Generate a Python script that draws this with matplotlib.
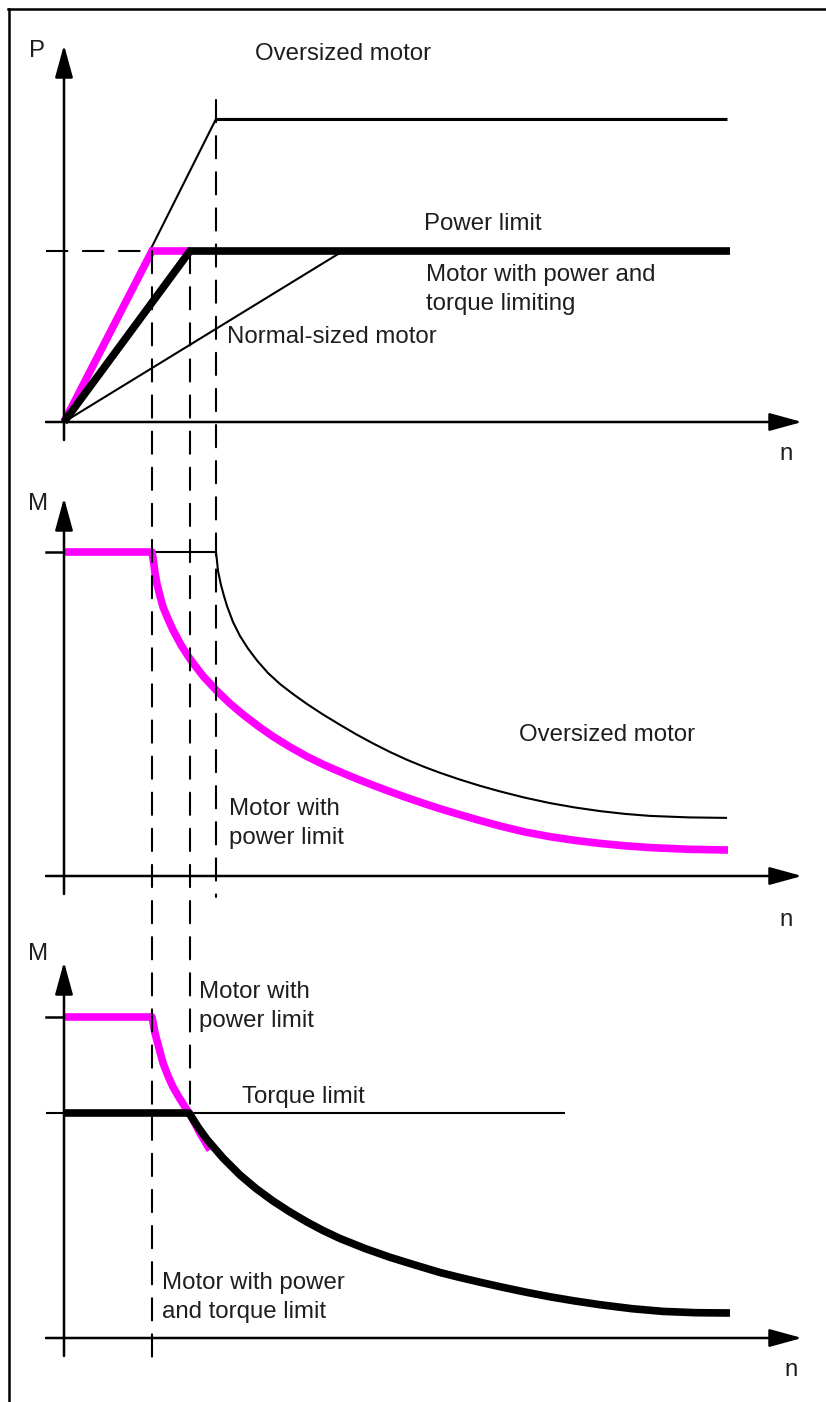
import matplotlib.pyplot as plt
from matplotlib.patches import ConnectionPatch
from matplotlib.lines import Line2D

plt.rcParams['font.family'] = ['Liberation Sans', 'DejaVu Sans']
plt.rcParams['lines.scale_dashes'] = False

W, H = 826, 1402
MAGENTA = '#ff00ff'
INK = '#1e1e1e'
FS = 17.3

# --- data (schematic units, origin of each diagram at 0,0) ---
n_power = 88      # power limit reached (magenta knee)
n_torque = 126    # knee of motor with power and torque limiting
n_over = 152      # knee of oversized motor
n_end = 666

# top: P over n
p_limit = 171
p_over = 303
p_mag_n = [0, n_power, n_torque]
p_mag_p = [0, p_limit, p_limit]
p_black_n = [0, n_torque, n_end]
p_black_p = [0, p_limit, p_limit]
p_over_n = [0, n_over, 663]
p_over_p = [0, p_over, p_over]
p_normal_n = [0, 279]
p_normal_p = [0, p_limit]

# middle: M over n, motor with power limit / oversized motor
m_max = 324
m2_mag_n = [0, 88, 89, 90, 91, 93, 96, 99, 104, 109, 117, 126, 139, 153, 166, 179, 194, 209, 226,
            243, 260, 276, 292, 309, 326, 343, 360, 376, 396, 416, 436, 461, 486, 511, 536, 561,
            586, 625, 664]
m2_mag_m = [324, 324, 318, 311, 303, 292, 280, 269, 257, 246, 231, 217, 200, 185, 172.5, 161.5, 150, 139.5, 129,
            119.5, 111.2, 104.2, 97.5, 90.8, 84.4, 78.3, 72.5, 67.3, 61.3, 55.5, 50, 44, 39.3, 35.6, 32.6, 30.2,
            28.4, 26.7, 26]
m2_over_n = [0, 152, 153, 154, 157, 160, 163, 169, 176, 184, 193, 204, 216, 229, 243, 259, 276, 292,
             309, 326, 343, 360, 376, 396, 416, 436, 461, 486, 511, 536, 561, 586, 625, 663]
m2_over_m = [324, 324, 315, 305, 291, 280, 270, 254, 240, 227.5, 215.5, 203, 192, 182, 172, 161.5, 151.2, 141.8,
             132.6, 124, 116.2, 109.2, 103.2, 96.4, 90.2, 84.6, 78.3, 72.9, 68.5, 64.9, 62.1, 60.1, 58.6, 58.1]

# bottom: M over n, power limit plus torque limit
m3_max = 321
torque_limit = 225
m3_mag_n = [0, 88, 89, 91, 95, 99, 104, 109, 116, 123, 126, 136, 146]
m3_mag_m = [321, 321, 316, 305, 290, 275, 262, 251, 239, 228, 224, 205, 188]
m3_black_n = [0, 125, 134, 143, 159, 176, 192, 209, 226, 243, 259, 276, 301, 326, 351, 376, 396,
              416, 436, 461, 486, 511, 536, 568, 599, 632, 666]
m3_black_m = [225, 225, 211, 198.5, 180, 163, 149.5, 137, 126, 116, 107.5, 99.5, 89.5, 80.7, 73, 65.5, 60.5,
              55.8, 51.3, 46, 41.2, 37, 33.3, 29.3, 26.6, 25.3, 25]
torque_line_n = [-18, 501]

fig = plt.figure(figsize=(W / 100, H / 100), dpi=100)


def panel(top, bottom, origin_y):
    ax = fig.add_axes([0, 1 - bottom / H, 1, (bottom - top) / H])
    ax.set_xlim(-64, W - 64)
    ax.set_ylim(origin_y - bottom, origin_y - top)
    ax.axis('off')
    return ax


def axes_arrows(ax, y_tip):
    style = dict(arrowstyle='-|>,head_length=20,head_width=5.5', mutation_scale=1,
                 lw=1.8, color='black', shrinkA=0, shrinkB=0)
    ax.annotate('', xy=(738, 0), xytext=(-18, 0), arrowprops=style)
    ax.annotate('', xy=(0, y_tip), xytext=(0, -18), arrowprops=style)


def label(ax, x, y, s):
    ax.text(x, y, s, fontsize=FS, color=INK, ha='left', va='baseline', linespacing=1.4)


dash = (0, (16, 10))
thin = dict(color='black', lw=1.5, solid_capstyle='butt', solid_joinstyle='round')
thick = dict(color='black', lw=5.5, solid_capstyle='butt', solid_joinstyle='round')
mag = dict(color=MAGENTA, lw=5.5, solid_capstyle='butt', solid_joinstyle='round')

# top diagram
ax1 = panel(0, 470, 422)
axes_arrows(ax1, 377)
ax1.plot([-18, n_power], [p_limit, p_limit], color='black', lw=1.5, linestyle=dash)
ax1.plot(p_over_n, p_over_p, **thin)
ax1.plot(p_over_n[1:], p_over_p[1:], color='black', lw=2.2, solid_capstyle='butt')
ax1.plot(p_normal_n, p_normal_p, **thin)
ax1.plot(p_mag_n, p_mag_p, color=MAGENTA, lw=5.5, solid_capstyle='butt', solid_joinstyle='miter')
ax1.plot(p_black_n, p_black_p, color='black', lw=5.5, solid_capstyle='butt', solid_joinstyle='miter')
label(ax1, -35, 365, 'P')
label(ax1, 191, 362, 'Oversized motor')
label(ax1, 360, 192, 'Power limit')
label(ax1, 362, 112, 'Motor with power and\ntorque limiting')
label(ax1, 163, 79, 'Normal-sized motor')
label(ax1, 715, -38, 'n')

# middle diagram
ax2 = panel(470, 930, 876)
axes_arrows(ax2, 378)
ax2.plot([-18, 0], [m_max, m_max], color='black', lw=1.8)
ax2.plot(m2_over_n, m2_over_m, **thin)
ax2.plot(m2_mag_n, m2_mag_m, **mag)
label(ax2, -36, 366, 'M')
label(ax2, 455, 135, 'Oversized motor')
label(ax2, 165, 32, 'Motor with\npower limit')
label(ax2, 715, -50, 'n')

# bottom diagram
ax3 = panel(930, H, 1338)
axes_arrows(ax3, 376)
ax3.plot([-18, 0], [m3_max, m3_max], color='black', lw=1.8)
ax3.plot(torque_line_n, [torque_limit, torque_limit], **thin)
ax3.plot(m3_mag_n, m3_mag_m, **mag)
ax3.plot(m3_black_n, m3_black_m, **thick)
label(ax3, -36, 378, 'M')
label(ax3, 135, 311, 'Motor with\npower limit')
label(ax3, 178, 235, 'Torque limit')
label(ax3, 98, 20, 'Motor with power\nand torque limit')
label(ax3, 720, -38, 'n')

# dashed guide lines running through the diagrams
for xa, ya, axa, yb, axb in [(n_power, p_limit, ax1, -27, ax3),
                             (n_torque, p_limit, ax1, torque_limit, ax3),
                             (n_over, 322, ax1, -21, ax2)]:
    con = ConnectionPatch(xyA=(xa, ya), coordsA='data', axesA=axa,
                          xyB=(xa, yb), coordsB='data', axesB=axb,
                          arrowstyle='-', lw=1.5, color='black', linestyle=dash,
                          shrinkA=0, shrinkB=0)
    fig.add_artist(con)

# frame
fig.add_artist(Line2D([8 / W, 1], [1 - 9 / H, 1 - 9 / H], transform=fig.transFigure, color='black', lw=1.8))
fig.add_artist(Line2D([9 / W, 9 / W], [0, 1 - 9 / H], transform=fig.transFigure, color='black', lw=1.8))

fig.savefig('out.png', dpi=100)
